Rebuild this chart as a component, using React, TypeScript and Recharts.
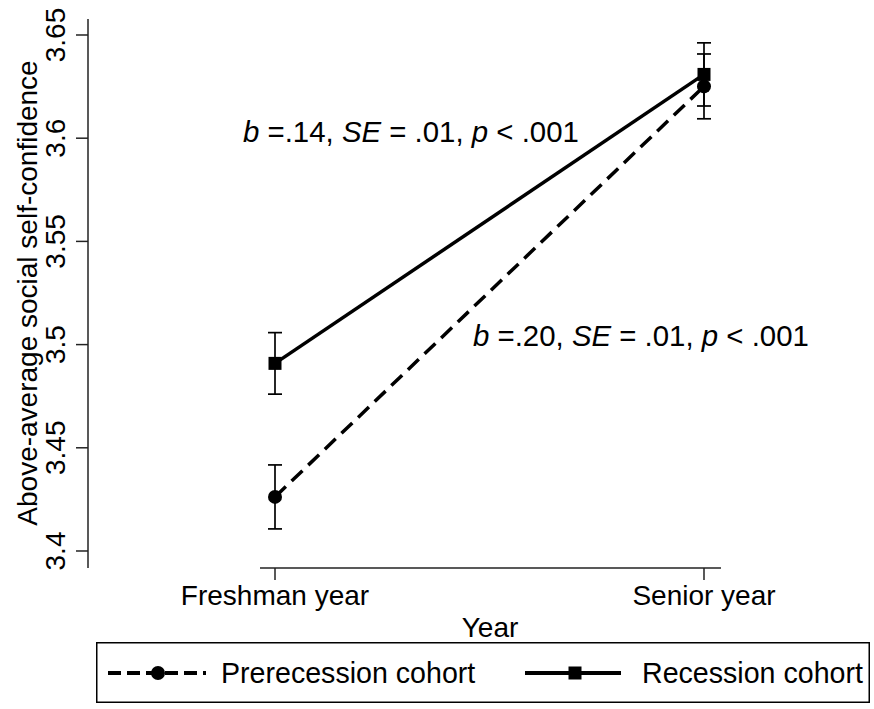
import React from 'react';
import { LineChart, Line, XAxis, YAxis, ErrorBar, ReferenceLine, Legend, Customized } from 'recharts';

const years = ['Freshman year', 'Senior year'];
const yearPos = [0, 1];
const prerecession = [3.4262, 3.6251];
const prerecessionSE = [0.0155, 0.0157];
const recession = [3.4909, 3.6309];
const recessionSE = [0.0149, 0.0153];
const seriesNames = ['Prerecession cohort', 'Recession cohort'];
const yTicks = [3.4, 3.45, 3.5, 3.55, 3.6, 3.65];
const yTickLabels = ['3.4', '3.45', '3.5', '3.55', '3.6', '3.65'];
const slopeB = ['.14', '.20'];
const slopeSE = ['.01', '.01'];
const slopeP = ['.001', '.001'];

const Y_MIN = 3.39176;
const Y_MAX = 3.65775;
const X_MIN = -0.4359;
const X_MAX = 1.13054;
const XLINE_START = -0.035;
const XLINE_END = 1.0396;

const FONT = '"Liberation Sans", Arial, Helvetica, sans-serif';
const INK = '#000';
const AXIS = '#222';

const data = yearPos.map((x, i) => ({
  x,
  pre: prerecession[i],
  preErr: prerecessionSE[i],
  rec: recession[i],
  recErr: recessionSE[i],
}));

const YTick = (props: any) => {
  const { x, y, payload } = props;
  const idx = yTicks.indexOf(payload.value);
  const label = idx >= 0 ? yTickLabels[idx] : String(payload.value);
  const bx = x - 9;
  return (
    <text x={bx} y={y} transform={`rotate(-90 ${bx} ${y})`} textAnchor="middle" fontSize={28} fontFamily={FONT} fill={INK}>
      {label}
    </text>
  );
};

const XTick = (props: any) => {
  const { x, y, payload } = props;
  const idx = yearPos.indexOf(payload.value);
  return (
    <text x={x} y={y + 23} textAnchor="middle" fontSize={28} fontFamily={FONT} fill={INK}>
      {idx >= 0 ? years[idx] : ''}
    </text>
  );
};

const CircleDot = (props: any) => {
  const { cx, cy, index } = props;
  return <circle key={`c${index}`} cx={cx} cy={cy} r={7} fill={INK} />;
};

const SquareDot = (props: any) => {
  const { cx, cy, index } = props;
  return <rect key={`s${index}`} x={cx - 6.5} y={cy - 6.5} width={13} height={13} fill={INK} />;
};

const Stat = ({ x, y, i }: { x: number; y: number; i: number }) => (
  <text x={x} y={y} fontSize={29.4} fontFamily={FONT} fill={INK}>
    <tspan fontStyle="italic">b</tspan>
    <tspan>{` =${slopeB[i]}, `}</tspan>
    <tspan fontStyle="italic">SE</tspan>
    <tspan>{` = ${slopeSE[i]}, `}</tspan>
    <tspan fontStyle="italic">p</tspan>
    <tspan>{` < ${slopeP[i]}`}</tspan>
  </text>
);

const Overlay = () => (
  <g>
    <text x={37} y={293} transform="rotate(-90 37 293)" textAnchor="middle" fontSize={28} fontFamily={FONT} fill={INK}>
      Above-average social self-confidence
    </text>
    <text x={490} y={637} textAnchor="middle" fontSize={28} fontFamily={FONT} fill={INK}>
      Year
    </text>
    <Stat x={243} y={142} i={0} />
    <Stat x={473} y={346} i={1} />
  </g>
);

const LegendBox = () => (
  <svg width={774} height={61} style={{ display: 'block' }}>
    <rect x={0.75} y={0.75} width={772.5} height={59.5} fill="#fff" stroke={INK} strokeWidth={1.5} />
    <line x1={12} y1={31} x2={110} y2={31} stroke={INK} strokeWidth={4} strokeDasharray="13 6" />
    <circle cx={62} cy={31} r={7} fill={INK} />
    <text x={125} y={41} fontSize={28.6} fontFamily={FONT} fill={INK}>{seriesNames[0]}</text>
    <line x1={429} y1={31} x2={525} y2={31} stroke={INK} strokeWidth={4} />
    <rect x={472.5} y={24.5} width={13} height={13} fill={INK} />
    <text x={546} y={41} fontSize={28.6} fontFamily={FONT} fill={INK}>{seriesNames[1]}</text>
  </svg>
);

export default function App() {
  return (
    <div style={{ position: 'absolute', left: 0, top: 0, width: 874, height: 709, background: '#fff' }}>
      <LineChart width={874} height={709} data={data} margin={{ top: 19, right: 114, bottom: 81, left: 0 }}>
        <XAxis
          dataKey="x"
          type="number"
          domain={[X_MIN, X_MAX]}
          allowDataOverflow
          ticks={yearPos}
          interval={0}
          height={60}
          axisLine={false}
          tickLine={{ stroke: AXIS, strokeWidth: 1.5 }}
          tickSize={12}
          tick={<XTick />}
        />
        <YAxis
          type="number"
          domain={[Y_MIN, Y_MAX]}
          allowDataOverflow
          ticks={yTicks}
          interval={0}
          width={88}
          axisLine={{ stroke: AXIS, strokeWidth: 1.5 }}
          tickLine={{ stroke: AXIS, strokeWidth: 1.5 }}
          tickSize={12}
          tick={<YTick />}
        />
        <ReferenceLine
          segment={[{ x: XLINE_START, y: Y_MIN }, { x: XLINE_END, y: Y_MIN }]}
          stroke={AXIS}
          strokeWidth={1.5}
          ifOverflow="visible"
        />
        <Line
          dataKey="pre"
          name={seriesNames[0]}
          type="linear"
          stroke={INK}
          strokeWidth={3.5}
          strokeDasharray="15 8"
          dot={CircleDot}
          activeDot={false}
          isAnimationActive={false}
        >
          <ErrorBar dataKey="preErr" width={7} stroke={INK} strokeWidth={1.7} direction="y" />
        </Line>
        <Line
          dataKey="rec"
          name={seriesNames[1]}
          type="linear"
          stroke={INK}
          strokeWidth={3.5}
          dot={SquareDot}
          activeDot={false}
          isAnimationActive={false}
        >
          <ErrorBar dataKey="recErr" width={7} stroke={INK} strokeWidth={1.7} direction="y" />
        </Line>
        <Customized component={Overlay} />
        <Legend
          layout="horizontal"
          verticalAlign="middle"
          align="center"
          wrapperStyle={{ position: 'absolute', left: 96, top: 642, width: 774, height: 61 }}
          content={() => <LegendBox />}
        />
      </LineChart>
    </div>
  );
}
